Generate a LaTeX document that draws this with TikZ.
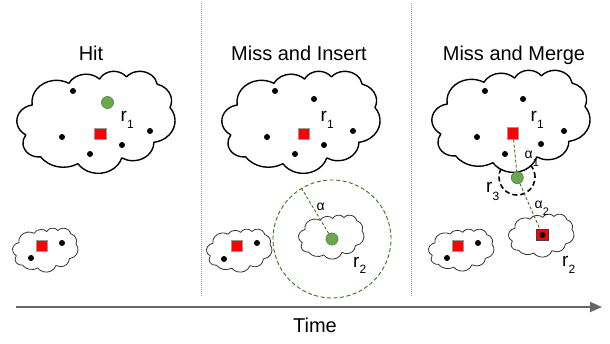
\documentclass[tikz,border=0pt]{standalone}
\usepackage{fontspec}
\setmainfont{Liberation Sans}
\usetikzlibrary{arrows.meta}
\definecolor{gfill}{HTML}{6AA84F}
\definecolor{gedge}{HTML}{5E8C4A}
\definecolor{gline}{HTML}{38761D}
\definecolor{axisgray}{HTML}{666666}
\definecolor{sepgray}{HTML}{999999}
\definecolor{sqedge}{HTML}{9A9A9A}
\newcommand{\subx}[2]{\lower#1\hbox{\fontsize{12}{14}\selectfont #2}}
\newcommand{\subs}[2]{\lower#1\hbox{\fontsize{11}{13}\selectfont #2}}
\newcommand{\cloudpath}[5]{%
\begin{scope}[shift={(#2,#3)},xscale=#4/432,yscale=#5/432]
\path[#1] (39.00,143.70)
 arc[start angle=172.25,end angle=300.36,x radius=67.53,y radius=91.90]
 arc[start angle=-152.02,end angle=-45.45,x radius=53.33,y radius=72.67]
 arc[start angle=-153.49,end angle=-37.32,x radius=43.65,y radius=59.45]
 arc[start angle=-139.72,end angle=-10.22,x radius=48.57,y radius=65.95]
 arc[start angle=-74.77,end angle=23.22,x radius=53.33,y radius=72.73]
 arc[start angle=-37.52,end angle=81.86,x radius=67.75,y radius=92.20]
 arc[start angle=0.46,end angle=121.97,x radius=57.85,y radius=78.67]
 arc[start angle=16.85,end angle=146.23,x radius=67.52,y radius=92.15]
 arc[start angle=58.98,end angle=144.48,x radius=77.20,y radius=105.43]
 arc[start angle=83.31,end angle=215.28,x radius=43.60,y radius=59.18]
 arc[start angle=120.35,end angle=261.12,x radius=50.0,y radius=68.4]
 -- cycle;
\end{scope}}
\tikzset{
 bigcloud/.style={draw=black,line width=1.4pt,fill=white,line join=round},
 smallcloud/.style={draw=black!80,line width=0.8pt,fill=white,line join=round},
 title/.style={font=\fontsize{20}{24}\selectfont,anchor=base,inner sep=0pt},
 rlab/.style={font=\fontsize{19}{23}\selectfont,anchor=base west,inner sep=0pt},
 alab/.style={font=\fontsize{14}{17}\selectfont,anchor=base west,inner sep=0pt},
 bdot/.style={circle,fill=black,inner sep=0pt,minimum size=6pt},
 redsq/.style={rectangle,fill=red,draw=sqedge,line width=0.8pt,inner sep=0pt,minimum size=11.5pt},
 greendot/.style={circle,fill=gfill,draw=gedge,line width=0.8pt,inner sep=0pt,minimum size=12pt},
 gdash/.style={draw=gline,line width=0.9pt,dash pattern=on 3pt off 2pt},
 sepline/.style={draw=sepgray,line width=0.8pt,dash pattern=on 1pt off 1pt},
}
\begin{document}
\begin{tikzpicture}[x=1pt,y=-1pt]
\useasboundingbox[fill=white] (0,0) rectangle (610,343);
% separators
\coordinate (s1t) at (201,3); \coordinate (s1b) at (201,297);
\coordinate (s2t) at (411,3); \coordinate (s2b) at (411,297);
\draw[sepline] (s1t) -- (s1b);
\draw[sepline] (s2t) -- (s2b);
% titles
\node[title] (t1) at (91,60) {Hit};
\node[title] (t2) at (299,60) {Miss and Insert};
\node[title] (t3) at (514,60) {Miss and Merge};
% ---------- panel 1
\cloudpath{bigcloud}{18}{71}{157}{102}
\cloudpath{smallcloud}{13}{228}{65}{44}
\node[bdot] (d11) at (73,91) {};
\node[bdot] (d12) at (62,137) {};
\node[bdot] (d13) at (90,154) {};
\node[bdot] (d14) at (122,145) {};
\node[bdot] (d15) at (150,131) {};
\node[redsq] (sq1) at (100.5,134) {};
\node[greendot] (g1) at (107.5,102.5) {};
\node[rlab] (r1a) at (120.5,121) {r\subx{7pt}{1}};
\node[redsq] (sq1s) at (42,246) {};
\node[bdot] (d16) at (62,243) {};
\node[bdot] (d17) at (31,258) {};
% ---------- panel 2
\node[draw=gline,circle,line width=0.9pt,dash pattern=on 4pt off 2.5pt,minimum size=118pt,inner sep=0pt] (c2) at (332,239) {};
\cloudpath{bigcloud}{223}{71}{157}{102}
\cloudpath{smallcloud}{207}{229}{65}{43}
\cloudpath{smallcloud}{299}{215}{65}{44}
\node[bdot] (d21) at (275,91) {};
\node[bdot] (d22) at (314,99) {};
\node[bdot] (d23) at (267,137) {};
\node[bdot] (d24) at (295,154) {};
\node[bdot] (d25) at (324,145) {};
\node[bdot] (d26) at (353,131) {};
\node[redsq] (sq2) at (304,134) {};
\node[rlab] (r1b) at (320.5,121) {r\subx{7pt}{1}};
\node[redsq] (sq2s) at (237,246) {};
\node[bdot] (d27) at (257,243) {};
\node[bdot] (d28) at (224,259) {};
\node[greendot] (g2) at (332,239) {};
\coordinate (e2) at (c2.121);
\draw[gdash] (g2) -- (e2);
\node[alab] (al) at (316.5,210) {α};
\node[rlab] (r2b) at (353,267) {r\subx{6pt}{2}};
% ---------- panel 3
\node[draw=black,circle,line width=1.6pt,dash pattern=on 5pt off 3pt,minimum size=36pt,inner sep=0pt] (c3) at (517,177) {};
\cloudpath{bigcloud}{433}{70}{157}{102}
\cloudpath{smallcloud}{429}{229}{65}{42}
\cloudpath{smallcloud}{509}{214}{65}{43}
\node[bdot] (d31) at (485,91) {};
\node[bdot] (d32) at (523,99) {};
\node[bdot] (d33) at (477,137) {};
\node[bdot] (d34) at (505,154) {};
\node[bdot] (d35) at (541,144) {};
\node[bdot] (d36) at (564,131) {};
\node[redsq] (sq3) at (513,133.5) {};
\node[greendot] (g3) at (517.3,177.7) {};
\node[redsq,draw=black!75] (sq3b) at (542.5,235) {};
\node[bdot] (d39) at (542.5,235) {};
\draw[gdash] (sq3) -- (g3);
\draw[gdash] (g3) -- (sq3b);
\node[rlab] (r1c) at (530.5,121) {r\subx{7pt}{1}};
\node[alab] (al1) at (524.5,158) {α\subs{8pt}{1}};
\node[alab] (al2) at (534.5,208) {α\subs{7pt}{2}};
\node[rlab] (r3) at (486,192) {r\subx{8pt}{3}};
\node[rlab] (r2c) at (562,266) {r\subx{7pt}{2}};
\node[redsq] (sq3s) at (458,246) {};
\node[bdot] (d37) at (478,243) {};
\node[bdot] (d38) at (447,258) {};
% ---------- time axis
\coordinate (ta) at (16,307);
\coordinate (tb) at (602,307);
\draw[draw=axisgray,line width=2pt,-{Triangle[length=12pt,width=10pt]}] (ta) -- (tb);
\node[title] (time) at (315,332) {Time};
\end{tikzpicture}
\end{document}
